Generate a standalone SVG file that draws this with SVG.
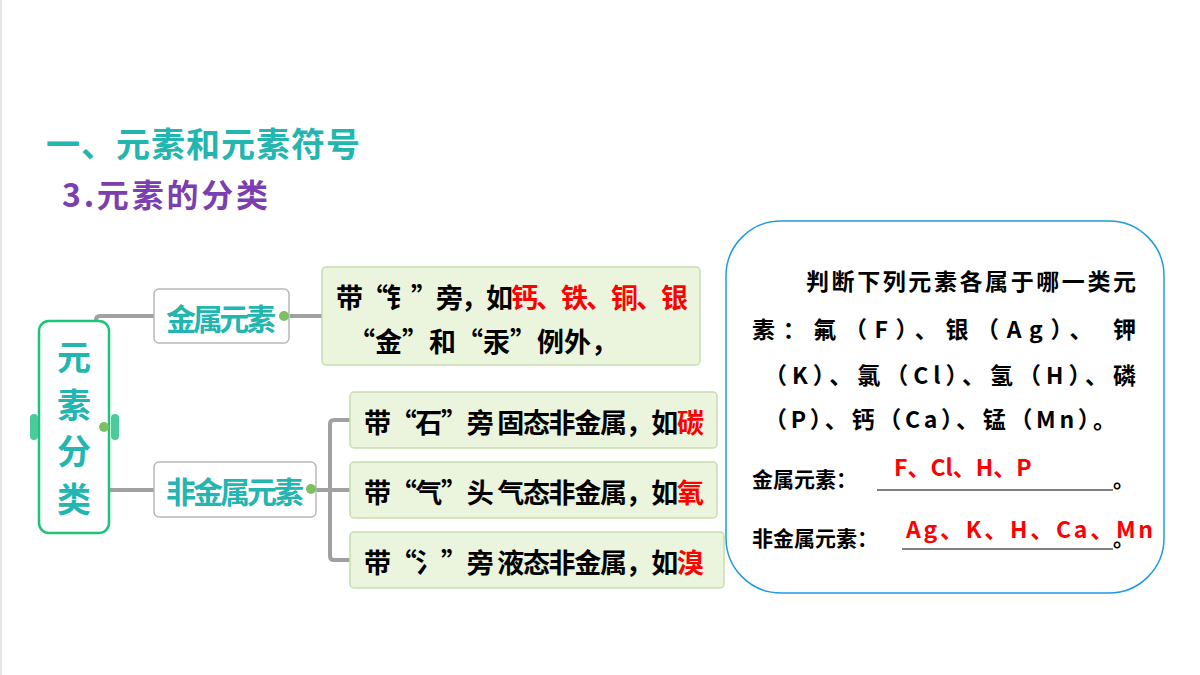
<svg xmlns="http://www.w3.org/2000/svg" width="1200" height="675" viewBox="0 0 1200 675">
<style>
text{font-family:"Noto Sans CJK SC","Liberation Sans",sans-serif;font-weight:bold}
.teal{fill:#23B5B0}
.leaf{fill:#EBF5DE;stroke:#C6DDAF;stroke-width:1.5}
.mid{fill:#fff;stroke:#B8B8B8;stroke-width:1.5}
.con{fill:none;stroke:#A0A0A0;stroke-width:4}
.blk{fill:#000;font-size:27px}
.red{fill:#FF0000}
.q{font-size:23px;fill:#000}
</style>
<rect width="1200" height="675" fill="#fff"/>
<line x1="1" y1="0" x2="1" y2="675" stroke="#ccc"/>
<text x="46" y="157" font-size="34" class="teal" textLength="314">一、元素和元素符号</text>
<text x="62" y="207" font-size="32" fill="#7B3FB0" textLength="206">3.元素的分类</text>
<g id="connectors">
<path class="con" d="M96 322 V320 Q96 316 100 316 H154"/>
<path class="con" d="M110 490 H154"/>
<path class="con" d="M290 316 H322"/>
<path class="con" d="M316 490 H350 M350 420 H334 Q330 420 330 424 V556 Q330 560 334 560 H350 M330 490 H350"/>
</g>
<g id="root">
<rect x="39" y="321" width="70" height="212" rx="10" fill="#fff" stroke="#1CC47C" stroke-width="2.5"/>
<text x="74" y="370" font-size="34" class="teal" text-anchor="middle">元</text>
<text x="74" y="418" font-size="34" class="teal" text-anchor="middle">素</text>
<text x="74" y="464" font-size="34" class="teal" text-anchor="middle">分</text>
<text x="74" y="512" font-size="34" class="teal" text-anchor="middle">类</text>
<rect x="30" y="414" width="8" height="26" rx="4" fill="#4CCB9A"/>
<rect x="111" y="414" width="8" height="26" rx="4" fill="#4CCB9A"/>
<circle cx="104" cy="427" r="5" fill="#7CC062"/>
</g>
<g id="metal">
<rect class="mid" x="154" y="289" width="135" height="54" rx="5"/>
<text x="166" y="330" font-size="30" class="teal" textLength="110">金属元素</text>
<circle cx="284" cy="316" r="5" fill="#7CC062"/>
</g>
<g id="nonmetal">
<rect class="mid" x="154" y="462" width="162" height="55" rx="5"/>
<text x="166" y="503" font-size="30" class="teal" textLength="138">非金属元素</text>
<circle cx="311" cy="489" r="5" fill="#7CC062"/>
</g>
<g id="leaf1">
<rect class="leaf" x="322" y="267" width="378" height="98" rx="4"/>
<text x="336" y="308" class="blk" textLength="352">带“钅”旁，如<tspan class="red">钙、铁、铜、银</tspan></text>
<text x="348" y="352" class="blk">“金”和“汞”例外，</text>
</g>
<g id="leaf2">
<rect class="leaf" x="350" y="392" width="367" height="56" rx="4"/>
<text x="364" y="433" class="blk" textLength="340">带“石”旁 固态非金属，如<tspan class="red">碳</tspan></text>
</g>
<g id="leaf3">
<rect class="leaf" x="350" y="462" width="367" height="56" rx="4"/>
<text x="364" y="503" class="blk" textLength="340">带“气”头 气态非金属，如<tspan class="red">氧</tspan></text>
</g>
<g id="leaf4">
<rect class="leaf" x="350" y="532" width="374" height="56" rx="4"/>
<text x="364" y="573" class="blk" textLength="340">带“氵”旁 液态非金属，如<tspan class="red">溴</tspan></text>
</g>
<g id="quiz">
<rect x="726" y="221" width="438" height="372" rx="55" fill="#fff" stroke="#1E9BE0" stroke-width="1.5"/>
<text x="806" y="290" class="q" textLength="330">判断下列元素各属于哪一类元</text>
<text x="752" y="338" class="q" textLength="384">素：氟（F）、银（Ag）、 钾</text>
<text x="764" y="384" class="q" textLength="372">（K）、氯（Cl）、氢（H）、磷</text>
<text x="764" y="428" class="q" textLength="352">（P）、钙（Ca）、锰（Mn）。</text>
<text x="752" y="487" font-size="21" fill="#000">金属元素：</text>
<line x1="877" y1="490" x2="1113" y2="490" stroke="#000" stroke-width="1"/>
<text x="1113" y="487" font-size="21" fill="#000">。</text>
<text x="894" y="476" font-size="23" class="red">F、Cl、H、P</text>
<text x="752" y="546" font-size="21" fill="#000">非金属元素：</text>
<line x1="902" y1="549" x2="1113" y2="549" stroke="#000" stroke-width="1"/>
<text x="1113" y="546" font-size="21" fill="#000">。</text>
<text x="906" y="538" font-size="23" class="red" textLength="247">Ag、K、H、Ca、Mn</text>
</g>
</svg>
